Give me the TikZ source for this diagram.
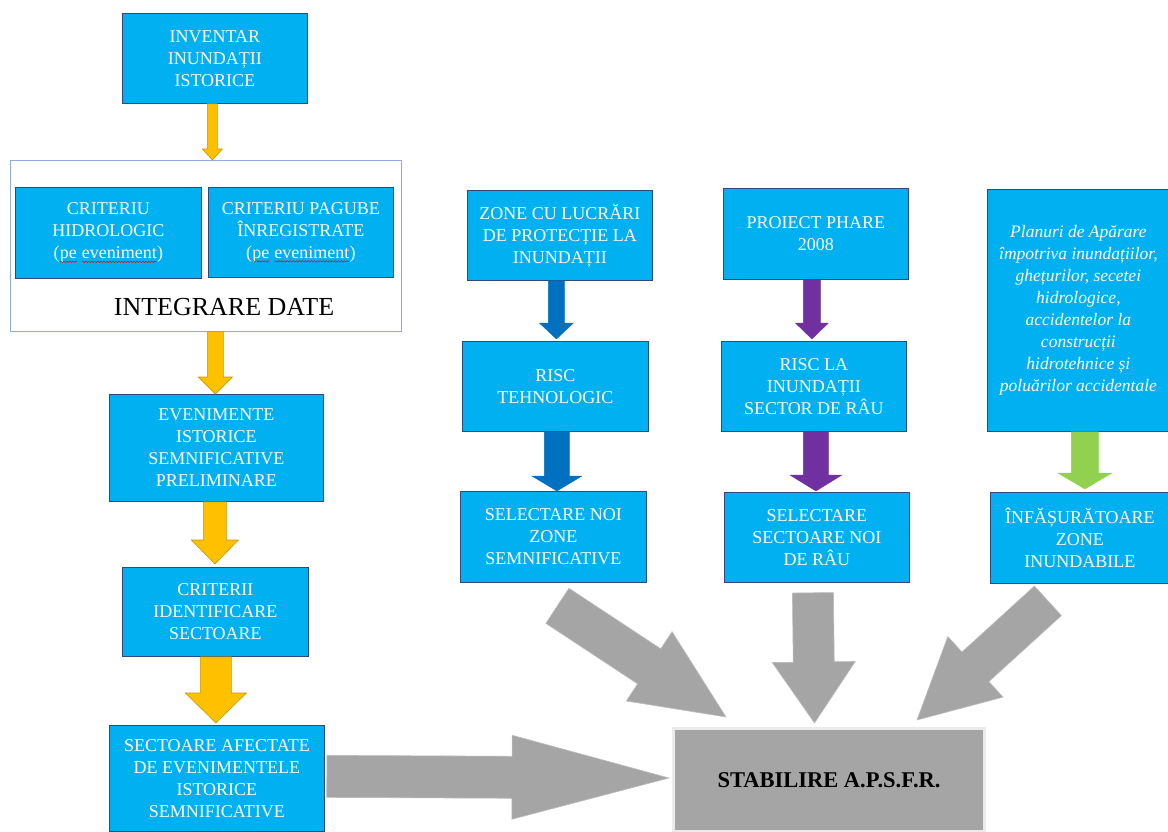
\documentclass[tikz,border=0pt]{standalone}
\usepackage{fontspec}
\setmainfont{Liberation Serif}
\usetikzlibrary{calc,decorations.pathmorphing}
\definecolor{cyanbox}{HTML}{00B0F0}
\definecolor{bdr}{HTML}{2E4A7D}
\definecolor{ylw}{HTML}{FFC000}
\definecolor{ylwb}{HTML}{C49A00}
\definecolor{blu}{HTML}{0070C0}
\definecolor{prp}{HTML}{7030A0}
\definecolor{grn}{HTML}{92D050}
\definecolor{gry}{HTML}{A5A5A5}
\definecolor{gryb}{HTML}{BDBDBD}
\definecolor{intb}{HTML}{8FAADC}
\newcommand\spellwave[1]{\tikz[baseline=(sw.base), x=1pt, y=1pt]{\node[inner sep=0pt, outer sep=0pt,
  minimum width=0pt, minimum height=0pt, anchor=base, draw=none, fill=none, text=white, align=center] (sw) {#1};
  \draw[red, line width=0.5pt, decorate, decoration={snake, amplitude=0.7pt, segment length=3pt}]
   ([yshift=-3pt]sw.base west) -- ([yshift=-3pt]sw.base east);}}
% block arrow: start, end, shaft half width, head half width, head length, style
\newcommand\blockarrow[6]{%
  \path #1 coordinate (bas);
  \path #2 coordinate (bae);
  \path let \p1=(bas), \p2=(bae), \n1={atan2(\y2-\y1,\x2-\x1)}, \n2={veclen(\x2-\x1,\y2-\y1)} in
    \pgfextra{\xdef\baang{\n1}\xdef\balen{\n2}};
  \begin{scope}[shift={(bas)}, rotate=\baang, x=1pt, y=1pt]
    \filldraw[#6] (0,-#3) -- ({\balen-#5},-#3) -- ({\balen-#5},-#4) -- (\balen,0)
      -- ({\balen-#5},#4) -- ({\balen-#5},#3) -- (0,#3) -- cycle;
  \end{scope}}
\begin{document}
\begin{tikzpicture}[x=1pt,y=-1pt,
  box/.style={draw=bdr, fill=cyanbox, line width=0.8pt, text=white, align=center,
    inner sep=2pt, anchor=north west, font=\fontsize{18}{22}\selectfont},
  yarrow/.style={fill=ylw, draw=ylwb, line width=0.6pt},
  barrow/.style={fill=blu, draw=blu},
  parrow/.style={fill=prp, draw=prp},
  garrow/.style={fill=grn, draw=grn},
  grarrow/.style={fill=gry, draw=gryb, line width=0.6pt}]
\useasboundingbox (0,0) rectangle (1168,832);
\fill[white] (0,0) rectangle (1168,832);

% left column
\node[box, minimum width=185pt, minimum height=90pt] (inv) at (122,13) {INVENTAR\\INUNDAȚII\\ISTORICE};
\node[draw=intb, fill=white, line width=0.8pt, anchor=north west, minimum width=391pt, minimum height=171pt] (integ) at (10,160) {};
\node[box, minimum width=186pt, minimum height=91pt] (hidro) at (15,187) {CRITERIU\\HIDROLOGIC\\(\spellwave{pe} \spellwave{eveniment})};
\node[box, minimum width=185pt, minimum height=90pt] (pagube) at (208,187) {CRITERIU PAGUBE\\ÎNREGISTRATE\\(\spellwave{pe} \spellwave{eveniment})};
\node[font=\fontsize{26}{30}\selectfont] (intlabel) at (224,307) {INTEGRARE DATE};
\node[box, minimum width=214pt, minimum height=107pt] (even) at (109,394) {EVENIMENTE\\ISTORICE\\SEMNIFICATIVE\\PRELIMINARE};
\node[box, minimum width=186pt, minimum height=89pt] (crit) at (122,567) {CRITERII\\IDENTIFICARE\\SECTOARE};
\node[box, minimum width=215pt, minimum height=106pt] (sect) at (109,725) {SECTOARE AFECTATE\\DE EVENIMENTELE\\ISTORICE\\SEMNIFICATIVE};

% middle columns
\node[box, minimum width=185pt, minimum height=90pt] (zone) at (467,190) {ZONE CU LUCRĂRI\\DE PROTECȚIE LA\\INUNDAȚII};
\node[box, minimum width=186pt, minimum height=90pt] (risct) at (462,341) {RISC\\TEHNOLOGIC};
\node[box, minimum width=186pt, minimum height=91pt] (selz) at (460,491) {SELECTARE NOI\\ZONE\\SEMNIFICATIVE};
\node[box, minimum width=185pt, minimum height=91pt] (phare) at (723,188) {PROIECT PHARE\\2008};
\node[box, minimum width=185pt, minimum height=90pt] (riscl) at (721,341) {RISC LA\\INUNDAȚII\\SECTOR DE RÂU};
\node[box, minimum width=185pt, minimum height=90pt] (sels) at (724,492) {SELECTARE\\SECTOARE NOI\\DE RÂU};

% right column
\node[box, minimum width=182pt, minimum height=242pt, font=\fontsize{17.5}{22}\selectfont\itshape] (plan) at (987,189)
  {Planuri de Apărare\\împotriva inundațiilor,\\ghețurilor, secetei\\hidrologice,\\accidentelor la\\construcții\\hidrotehnice și\\poluărilor accidentale};
\node[box, minimum width=179pt, minimum height=91pt] (infas) at (990,492) {ÎNFĂȘURĂTOARE\\ZONE\\INUNDABILE};

% result
\node[fill=gry, draw=white!92!black, line width=3pt, anchor=north west, minimum width=311pt, minimum height=103pt,
  font=\fontsize{22.5}{26}\selectfont\bfseries] (stab) at (672,727) {STABILIRE A.P.S.F.R.};

% yellow arrows
\coordinate (y1s) at ($(inv.south)+(-2.5,0)$); \coordinate (y1e) at (y1s |- integ.north);
\blockarrow{(y1s)}{(y1e)}{5}{10}{11}{yarrow}
\coordinate (y2s) at ($(integ.south)+(9.5,0)$); \coordinate (y2e) at (y2s |- even.north);
\blockarrow{(y2s)}{(y2e)}{8}{17}{17}{yarrow}
\coordinate (y3s) at ($(even.south)+(-1.5,0)$); \coordinate (y3e) at ($(y3s |- crit.north)+(0,-3)$);
\blockarrow{(y3s)}{(y3e)}{11.5}{23.5}{24}{yarrow}
\coordinate (y4s) at ($(crit.south)+(0.5,0)$); \coordinate (y4e) at ($(y4s |- sect.north)+(0,-2)$);
\blockarrow{(y4s)}{(y4e)}{15.5}{30.5}{30}{yarrow}

% blue arrows
\coordinate (b1s) at ($(zone.south)+(-3.5,0)$); \coordinate (b1e) at ($(b1s |- risct.north)+(0,-2)$);
\blockarrow{(b1s)}{(b1e)}{8}{17}{16}{barrow}
\coordinate (b2s) at ($(risct.south)+(1.5,0)$); \coordinate (b2e) at (b2s |- selz.north);
\blockarrow{(b2s)}{(b2e)}{12.5}{25}{15}{barrow}

% purple arrows
\coordinate (p1s) at ($(phare.south)+(-4,0)$); \coordinate (p1e) at ($(p1s |- riscl.north)+(0,-2)$);
\blockarrow{(p1s)}{(p1e)}{8.5}{16.5}{16}{parrow}
\coordinate (p2s) at ($(riscl.south)+(2,0)$); \coordinate (p2e) at ($(p2s |- sels.north)+(0,-1)$);
\blockarrow{(p2s)}{(p2e)}{12.5}{26}{16}{parrow}

% green arrow
\coordinate (g1s) at ($(plan.south)+(6.5,0)$); \coordinate (g1e) at ($(g1s |- infas.north)+(0,-3)$);
\blockarrow{(g1s)}{(g1e)}{13.5}{27}{16}{garrow}

% grey arrows
\coordinate (h1s) at ($(sect.east)+(2,-2)$); \coordinate (h1e) at ($(stab.west)+(-3,-2)$);
\blockarrow{(h1s)}{(h1e)}{21}{42}{157}{grarrow}
\coordinate (d1s) at ($(selz.south)+(4,23)$); \coordinate (d1e) at ($(stab.north)+(-103,-10)$);
\blockarrow{(d1s)}{(d1e)}{21}{41.5}{92}{grarrow}
\coordinate (d2s) at ($(sels.south)+(-4,10)$); \coordinate (d2e) at ($(stab.north)+(-14.5,-4)$);
\blockarrow{(d2s)}{(d2e)}{20.5}{41.5}{61}{grarrow}
\coordinate (d3s) at ($(infas.south)+(-32,17)$); \coordinate (d3e) at ($(stab.north)+(88,-7)$);
\blockarrow{(d3s)}{(d3e)}{20}{41}{79}{grarrow}
\end{tikzpicture}
\end{document}
